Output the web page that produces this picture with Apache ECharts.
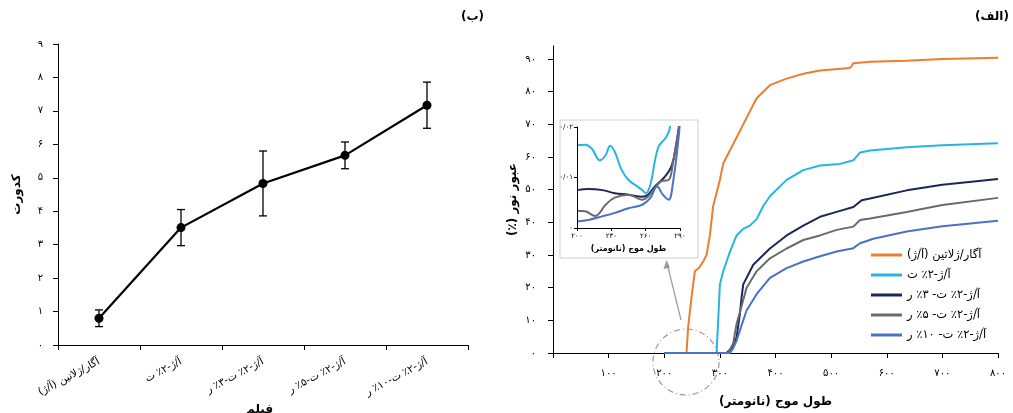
<!DOCTYPE html>
<html dir="rtl">
<head>
<meta charset="utf-8">
<script src="https://cdn.jsdelivr.net/npm/echarts@6/dist/echarts.min.js"></script>
<style>
html,body{margin:0;padding:0;background:#fff;}
#c{width:1013px;height:413px;}
</style>
</head>
<body>
<div id="c"></div>
<script>
// ---------- Data ----------
const filmCats = ['آگار/ژلاتین (آ/ژ)', 'آ/ژ-۲٪ ت', 'آ/ژ-۲٪ ت-۳٪ ر', 'آ/ژ-۲٪ ت-۵٪ ر', 'آ/ژ-۲٪ ت-۱۰٪ ر'];
const turbidity = [0.80, 3.51, 4.83, 5.67, 7.17];
const turbidityErr = [0.25, 0.54, 0.97, 0.40, 0.69];

const seriesNames = ['آگار/ژلاتین (آ/ژ)', 'آ/ژ-۲٪ ت', 'آ/ژ-۲٪ ت- ۳٪ ر', 'آ/ژ-۲٪ ت- ۵٪ ر', 'آ/ژ-۲٪ ت- ۱۰٪ ر'];
const seriesColors = ['#ED7D31', '#27B4E4', '#1C2758', '#6A6A6A', '#4C70C6'];

const transAG = [[200,0],[240,0],[243,8],[249,17],[255,25],[262,26],[270,28],[276,30],[282,36],[288,45],[300,53],[306,58],[318,62],[330,66],[348,72],[366,78],[390,82],[420,84],[450,85.5],[480,86.5],[528,87.2],[535,87.4],[540,88.7],[570,89.2],[636,89.5],[700,90],[800,90.4]];
const transT2 = [[200,0],[294,0],[297,10],[300,21],[306,25],[318,31],[330,36],[342,38],[354,39],[366,41],[378,45],[390,48],[420,53],[450,56],[480,57.4],[516,57.9],[540,59],[552,61.4],[570,62],[636,63],[700,63.6],[800,64.2]];
const transR3 = [[200,0],[312,0],[324,2],[330,4.8],[336,12],[339,17],[342,21],[360,27],[390,32],[420,36],[450,39],[480,41.7],[510,43.2],[540,44.7],[555,46.8],[570,47.3],[636,49.8],[700,51.5],[800,53.3]];
const transR5 = [[200,0],[315,0],[324,3],[330,8.9],[340,15],[348,20],[366,25],[390,29],[420,32],[450,34.6],[480,36],[510,37.7],[540,38.7],[552,40.7],[570,41.2],[636,43.2],[700,45.3],[800,47.5]];
const transR10 = [[200,0],[318,0],[324,1.5],[330,3.8],[340,9],[348,13],[366,18],[390,23],[420,26],[450,28],[480,29.6],[510,31.1],[540,32.1],[552,33.6],[576,35],[636,37.2],[700,38.8],[800,40.5]];

const insetT2 = [[200,0.0164],[207,0.0165],[213,0.0157],[220,0.0134],[225,0.0144],[229,0.0163],[233,0.0151],[239,0.0115],[245,0.0095],[251,0.0085],[257,0.0075],[260,0.0069],[264,0.0085],[271,0.016],[278,0.018],[281,0.0197],[283,0.024]];
const insetR3 = [[200,0.0075],[210,0.0077],[222,0.0075],[233,0.0069],[245,0.0066],[257,0.0062],[262,0.0066],[268,0.0082],[277,0.0102],[283,0.0125],[287,0.017],[289,0.02],[290,0.022]];
const insetR5 = [[200,0.0034],[207,0.0033],[216,0.0024],[225,0.0046],[233,0.006],[245,0.0066],[257,0.0056],[262,0.0062],[268,0.0079],[274,0.0093],[280,0.0095],[284,0.0131],[289,0.0197],[290,0.022]];
const insetR10 = [[200,0.0013],[210,0.0016],[222,0.0023],[233,0.003],[245,0.0039],[257,0.0046],[264,0.0059],[270,0.0082],[275,0.0066],[280,0.0056],[284,0.0092],[289,0.0184],[290,0.022]];

const rightYTicks = [0,10,20,30,40,50,60,70,80,90];

// ---------- Helpers ----------
const FA = '۰۱۲۳۴۵۶۷۸۹';
const fa = v => String(v).replace(/\d/g, d => FA[d]).replace(/\./g, '/');
const FONT = 'DejaVu Sans';

const axisBase = {
  axisLine: { show: true, lineStyle: { color: '#000', width: 1 } },
  axisTick: { show: true, length: 5, lineStyle: { color: '#000' } },
  splitLine: { show: false },
  axisLabel: { color: '#000', fontFamily: FONT, fontSize: 10 }
};

const chart = echarts.init(document.getElementById('c'));

const mainTrans = [transAG, transT2, transR3, transR5, transR10];
const insetTrans = [null, insetT2, insetR3, insetR5, insetR10];

const series = [];
series.push({
  type: 'line', xAxisIndex: 0, yAxisIndex: 0, data: turbidity,
  symbol: 'circle', symbolSize: 9, color: '#000',
  lineStyle: { color: '#000', width: 2.2 }, itemStyle: { color: '#000' }, z: 3
});
series.push({
  type: 'custom', xAxisIndex: 0, yAxisIndex: 0,
  data: turbidity.map((v, i) => [i, v, turbidityErr[i]]),
  renderItem: function (params, api) {
    const i = api.value(0), v = api.value(1), e = api.value(2);
    const top = api.coord([i, v + e]);
    const bot = api.coord([i, v - e]);
    const cw = 4;
    const st = { stroke: '#000', lineWidth: 1.3 };
    return { type: 'group', children: [
      { type: 'line', shape: { x1: top[0], y1: top[1], x2: bot[0], y2: bot[1] }, style: st },
      { type: 'line', shape: { x1: top[0]-cw, y1: top[1], x2: top[0]+cw, y2: top[1] }, style: st },
      { type: 'line', shape: { x1: bot[0]-cw, y1: bot[1], x2: bot[0]+cw, y2: bot[1] }, style: st }
    ]};
  },
  z: 2
});
mainTrans.forEach((d, k) => {
  series.push({
    name: seriesNames[k], type: 'line', xAxisIndex: 1, yAxisIndex: 1, data: d,
    showSymbol: false, symbol: 'none', color: seriesColors[k],
    lineStyle: { width: 2, color: seriesColors[k] }, z: 3
  });
});
insetTrans.forEach((d, k) => {
  if (!d) return;
  series.push({
    name: seriesNames[k], type: 'line', xAxisIndex: 2, yAxisIndex: 2, data: d,
    showSymbol: false, symbol: 'none', smooth: 0.4, clip: true, color: seriesColors[k],
    lineStyle: { width: 2, color: seriesColors[k] }, z: 5
  });
});

const option = {
  animation: false,
  backgroundColor: '#fff',
  textStyle: { fontFamily: FONT },
  grid: [
    { left: 58, right: 545, top: 44, bottom: 68, containLabel: false },
    { left: 553, right: 15, top: 46, bottom: 57, containLabel: false },
    { left: 577, right: 333, top: 127, bottom: 185, containLabel: false, z: 4 }
  ],
  xAxis: [
    Object.assign({}, axisBase, {
      gridIndex: 0, type: 'category', data: filmCats, boundaryGap: true,
      axisTick: { show: true, length: 5, alignWithLabel: false, lineStyle: { color: '#000' } },
      axisLabel: { color: '#000', fontFamily: FONT, fontSize: 10.5, rotate: 28, interval: 0, margin: 16 }
    }),
    Object.assign({}, axisBase, {
      gridIndex: 1, type: 'value', min: 0, max: 800, interval: 100,
      axisLabel: { color: '#000', fontFamily: FONT, fontSize: 10, margin: 15,
        formatter: v => v === 0 ? '' : fa(v) },
      name: 'طول موج (نانومتر)', nameLocation: 'middle', nameGap: 43,
      nameTextStyle: { color: '#000', fontFamily: FONT, fontSize: 12, fontWeight: 'bold' }
    }),
    Object.assign({}, axisBase, {
      gridIndex: 2, type: 'value', min: 200, max: 290, interval: 30, z: 6,
      axisTick: { show: true, length: 3, lineStyle: { color: '#000' } },
      axisLabel: { color: '#000', fontFamily: FONT, fontSize: 7, margin: 5, formatter: v => fa(v) },
      name: 'طول موج (نانومتر)', nameLocation: 'middle', nameGap: 17,
      nameTextStyle: { color: '#000', fontFamily: FONT, fontSize: 8, fontWeight: 'bold' }
    })
  ],
  yAxis: [
    Object.assign({}, axisBase, {
      gridIndex: 0, type: 'value', min: 0, max: 9, interval: 1,
      axisLabel: { color: '#000', fontFamily: FONT, fontSize: 10, margin: 15, formatter: v => fa(v) },
      name: 'کدورت', nameLocation: 'middle', nameGap: 35,
      nameTextStyle: { color: '#000', fontFamily: FONT, fontSize: 12, fontWeight: 'bold' }
    }),
    Object.assign({}, axisBase, {
      gridIndex: 1, type: 'value', min: 0, max: 94,
      axisTick: { show: true, length: 5, lineStyle: { color: '#000' }, customValues: rightYTicks },
      axisLabel: { color: '#000', fontFamily: FONT, fontSize: 10, margin: 17, customValues: rightYTicks, formatter: v => fa(v) },
      name: 'عبور نور (٪)', nameLocation: 'middle', nameGap: 34,
      nameTextStyle: { color: '#000', fontFamily: FONT, fontSize: 12, fontWeight: 'bold' }
    }),
    Object.assign({}, axisBase, {
      gridIndex: 2, type: 'value', min: 0, max: 0.02, interval: 0.01, z: 6,
      axisTick: { show: true, length: 3, lineStyle: { color: '#000' } },
      axisLabel: { color: '#000', fontFamily: FONT, fontSize: 7, margin: 4, formatter: v => fa(v) }
    })
  ],
  legend: {
    orient: 'vertical', left: 866, top: 244, itemGap: 8,
    itemWidth: 31, itemHeight: 3, icon: 'rect',
    data: seriesNames,
    textStyle: { color: '#000', fontFamily: FONT, fontSize: 11.5 }
  },
  graphic: [
    { type: 'rect', shape: { x: 560, y: 120, width: 138, height: 138 },
      style: { fill: '#fff', stroke: '#cfcfcf', lineWidth: 1 }, z: 1 },
    { type: 'circle', shape: { cx: 686, cy: 362, r: 33 },
      style: { fill: 'none', stroke: '#9a9a9a', lineWidth: 1.2, lineDash: [6, 3, 1, 3] }, z: 1 },
    { type: 'line', shape: { x1: 681, y1: 320, x2: 667, y2: 263 },
      style: { stroke: '#9a9a9a', lineWidth: 1.2 }, z: 1 },
    { type: 'polygon', shape: { points: [[666.5, 260], [663.5, 269], [670, 267.5]] },
      style: { fill: '#9a9a9a' }, z: 1 },
    { type: 'text', left: 461, top: 11,
      style: { text: '(ب)', fill: '#000', font: 'bold 12px "DejaVu Sans"' } },
    { type: 'text', left: 975, top: 11,
      style: { text: '(الف)', fill: '#000', font: 'bold 12px "DejaVu Sans"' } },
    { type: 'text', left: 246, top: 404,
      style: { text: 'فیلم', fill: '#000', font: 'bold 12px "DejaVu Sans"' } }
  ],
  series: series
};
chart.setOption(option);
</script>
</body>
</html>
